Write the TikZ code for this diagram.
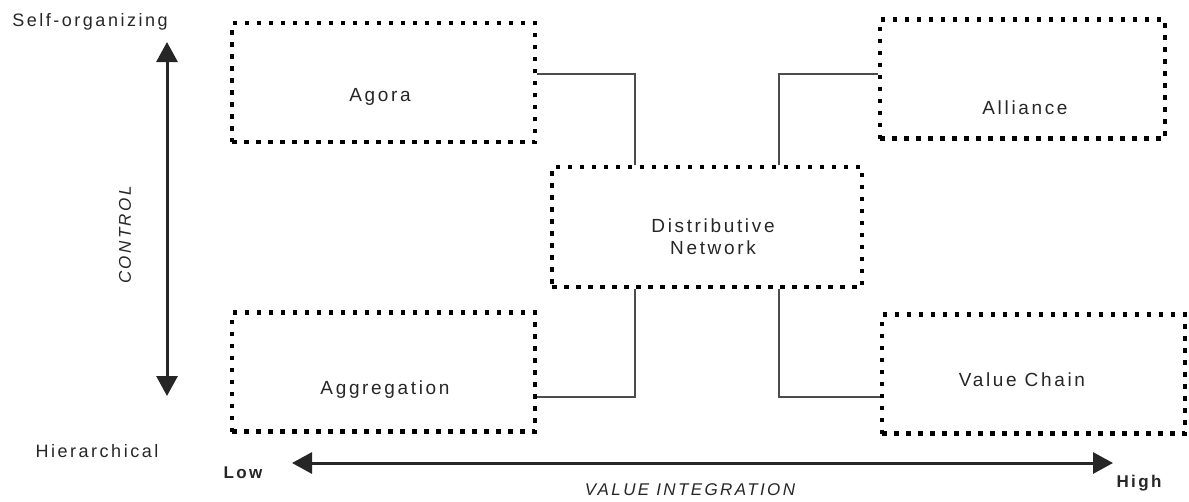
\documentclass[tikz,border=0pt]{standalone}
\usepackage{fontspec}
\setmainfont{Liberation Sans}[LetterSpace=14]
\usetikzlibrary{arrows.meta}

\begin{document}
\begin{tikzpicture}[x=1pt, y=-1pt,
    box/.style={draw, line width=4.5pt, dash pattern=on 4.5pt off 7.5pt, inner sep=0pt,
                minimum width=303pt, minimum height=119pt},
    boxtext/.style={font=\fontsize{19}{22}\selectfont, text=black!85},
    sidetext/.style={font=\fontsize{18}{21}\selectfont, text=black!85},
    link/.style={draw=black!70, line width=1.8pt},
    axis/.style={draw=black!85, line width=3pt, {Triangle[length=20pt,width=21pt]}-{Triangle[length=20pt,width=21pt]}}]
    \useasboundingbox (0,0) rectangle (1189,501);
    % Boxes
    \node[box] (agora) at (383.5,82.5) {};
    \node[box, minimum width=285pt] (alliance) at (1022.5,79) {};
    \node[box, minimum width=310pt, minimum height=120pt] (dist) at (707,227) {};
    \node[box] (aggr) at (383.5,372) {};
    \node[box] (vchain) at (1033.5,374) {};
    % Box labels
    \node[boxtext] (agoratext) at (380,97) {Agora};
    \node[boxtext] (alliancetext) at (1025,108) {Alliance};
    \node[boxtext, align=center] (disttext) at (713,237) {Distributive\\Network};
    \node[boxtext] (aggrtext) at (385,390) {Aggregation};
    \node[boxtext] (vchaintext) at (1022,380) {Value Chain};
    % Connectors
    \draw[link] ([yshift=8.5pt]agora.east) -| ([xshift=-72pt]dist.north);
    \draw[link] ([yshift=5pt]alliance.west) -| ([xshift=72pt]dist.north);
    \draw[link] ([yshift=-25pt]aggr.east) -| ([xshift=-72pt]dist.south);
    \draw[link] ([yshift=-23pt]vchain.west) -| ([xshift=72pt]dist.south);
    % Control axis
    \coordinate (ctop) at (167,42);
    \coordinate (cbot) at (167,396);
    \draw[axis] (ctop) -- (cbot);
    \node[sidetext] (selforg) at (90,22) {Self-organizing};
    \node[sidetext] (hier) at (97,451) {Hierarchical};
    \node[sidetext, rotate=90, font=\fontsize{17}{20}\selectfont\itshape] (control) at (125,235) {CONTROL};
    % Value integration axis
    \coordinate (vleft) at (292,463);
    \coordinate (vright) at (1113,463);
    \draw[axis] (vleft) -- (vright);
    \node[sidetext, font=\fontsize{17}{20}\selectfont\bfseries] (low) at (243,473) {Low};
    \node[sidetext, font=\fontsize{17}{20}\selectfont\bfseries] (high) at (1139,483) {High};
    \node[sidetext, font=\fontsize{17}{20}\selectfont\itshape] (valint) at (690,490) {VALUE INTEGRATION};
\end{tikzpicture}
\end{document}
